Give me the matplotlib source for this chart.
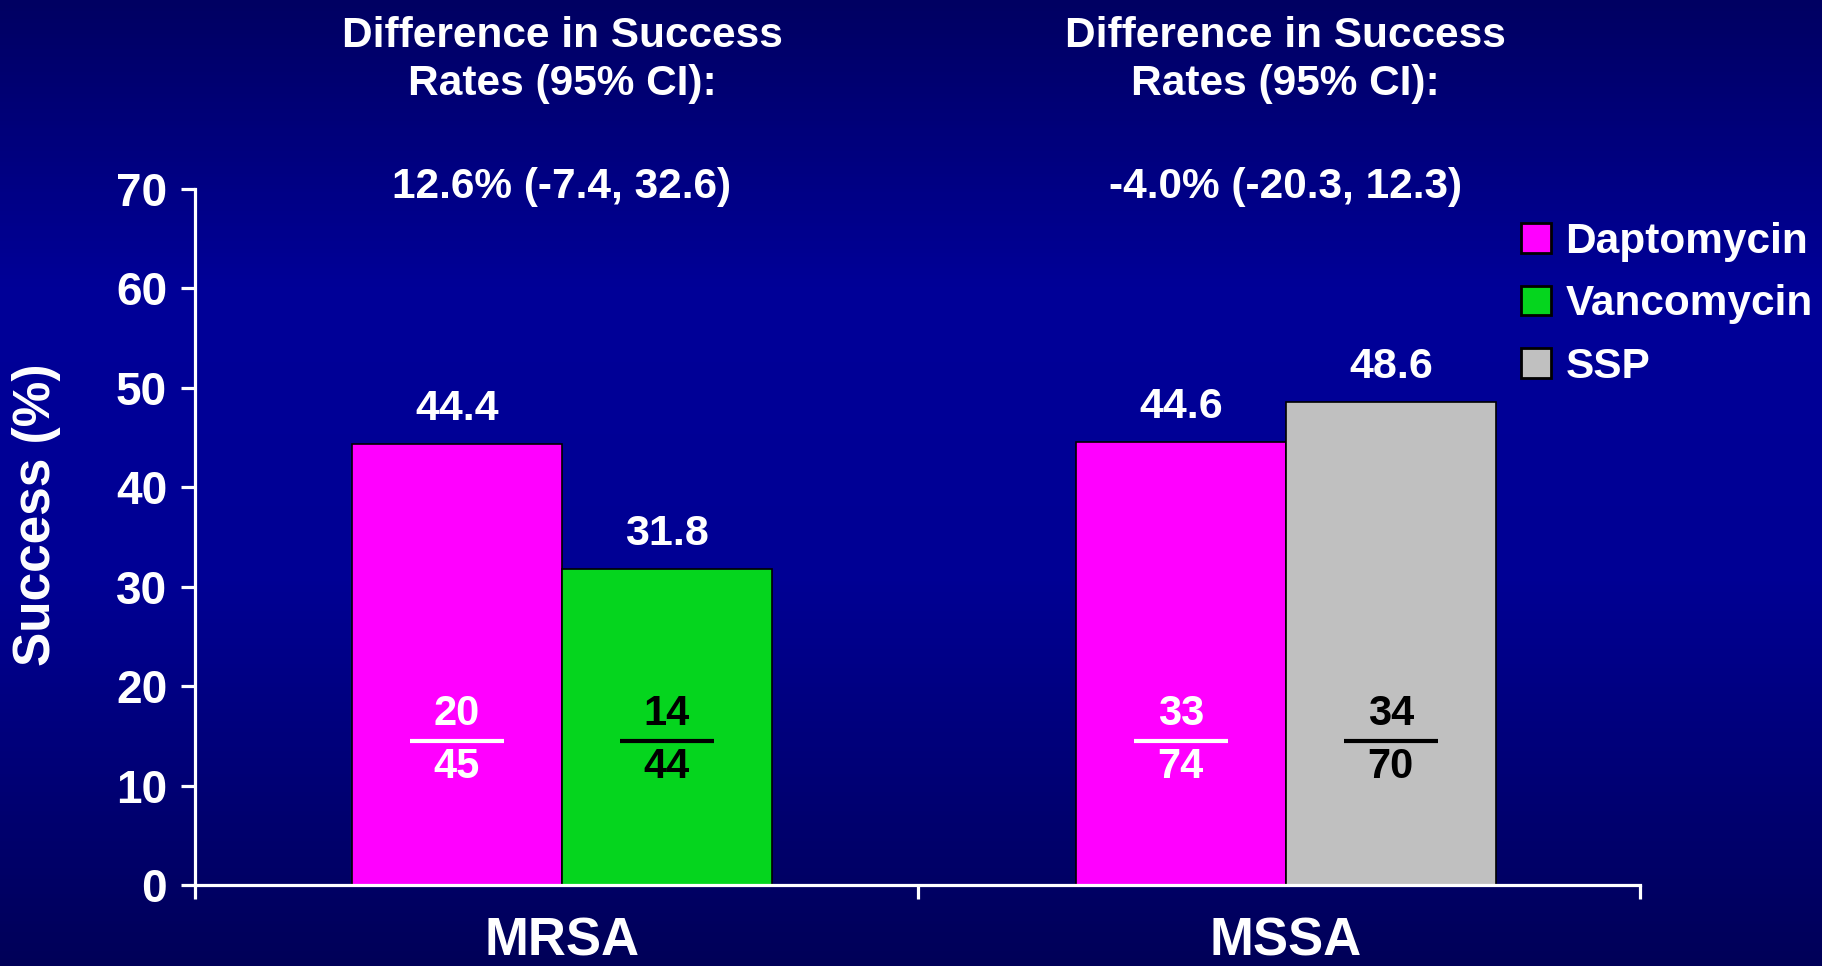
import numpy as np
import matplotlib as mplt
import matplotlib.pyplot as plt
from matplotlib.colors import LinearSegmentedColormap
from matplotlib.patches import Patch
import matplotlib.transforms as mtransforms

# Datos del gráfico
groups = ['MRSA', 'MSSA']
series_names = ['Daptomycin', 'Vancomycin', 'SSP']
left_names = ['Daptomycin', 'Daptomycin']
right_names = ['Vancomycin', 'SSP']
left_values = [44.4, 44.6]
right_values = [31.8, 48.6]
left_num = [20, 33]
left_den = [45, 74]
right_num = [14, 34]
right_den = [44, 70]
diff_text = ['12.6% (-7.4, 32.6)', '-4.0% (-20.3, 12.3)']
yticks = [0, 10, 20, 30, 40, 50, 60, 70]

colors = {'Daptomycin': '#FF00FF', 'Vancomycin': '#05D51E', 'SSP': '#C0C0C0'}
frac_color = {'Daptomycin': 'white', 'Vancomycin': 'black', 'SSP': 'black'}

mplt.rc('font', family=['Liberation Sans', 'DejaVu Sans'], weight='bold', size=30.5)
mplt.rc('axes', labelweight='bold')

fig = plt.figure(figsize=(18.22, 9.66), dpi=100)

# Fondo degradado azul
bg = fig.add_axes([0, 0, 1, 1], zorder=-10)
cmap = LinearSegmentedColormap.from_list(
    'fundo', [(0.0, '#000062'), (0.3, '#000098'), (0.6, '#000094'), (1.0, '#000058')])
bg.imshow(np.linspace(0, 1, 256).reshape(-1, 1), aspect='auto', cmap=cmap,
          extent=[0, 1, 0, 1], origin='upper')
bg.axis('off')

ax = fig.add_axes([0.107, 0.0839, 0.793, 0.7204])
ax.patch.set_alpha(0)

width = 0.29
x = np.arange(len(groups))
xl = x - width / 2
xr = x + width / 2

for i in range(len(groups)):
    ax.bar(xl[i], left_values[i], width, color=colors[left_names[i]],
           edgecolor='black', linewidth=1.2, zorder=2)
    ax.bar(xr[i], right_values[i], width, color=colors[right_names[i]],
           edgecolor='black', linewidth=1.2, zorder=2)

# Valores sobre las barras
for xs, vals in [(xl, left_values), (xr, right_values)]:
    for xi, v in zip(xs, vals):
        ax.annotate(f'{v:.1f}', (xi, v), xytext=(0, 25), textcoords='offset points',
                    ha='center', va='center', color='white', fontsize=31)

# Fracciones dentro de las barras
def fraction(xc, num, den, color):
    ax.text(xc, 17.2, str(num), ha='center', va='center', color=color, fontsize=30, zorder=3)
    ax.text(xc, 11.9, str(den), ha='center', va='center', color=color, fontsize=30, zorder=3)
    ax.plot([xc - 0.065, xc + 0.065], [14.5, 14.5], color=color, lw=3, zorder=3,
            solid_capstyle='butt')

for i in range(len(groups)):
    fraction(xl[i], left_num[i], left_den[i], frac_color[left_names[i]])
    fraction(xr[i], right_num[i], right_den[i], frac_color[right_names[i]])

# Límites con separadores de grupo en los bordes
sep = [-0.507, 0.492, 1.489]
ax.set_xlim(sep[0], sep[-1])
ax.set_ylim(0, 70)
ax.set_yticks(yticks)

for s in ['top', 'right']:
    ax.spines[s].set_visible(False)
for s in ['left', 'bottom']:
    ax.spines[s].set_color('white')
    ax.spines[s].set_linewidth(2.3)

ax.tick_params(axis='y', colors='white', length=10, width=2.3, pad=10, labelsize=33)
ax.set_xticks(x)
ax.set_xticklabels(groups)
ax.tick_params(axis='x', which='major', length=0, pad=23, labelsize=38, colors='white')
ax.set_xticks(sep, minor=True)
ax.tick_params(axis='x', which='minor', length=10, width=2.3, color='white')

ax.set_ylabel('Success (%)', color='white', fontsize=37)
ax.yaxis.set_label_coords(-0.093, 0.532)

# Títulos de diferencia en cada grupo
trans = mtransforms.blended_transform_factory(ax.transData, fig.transFigure)
for i in range(len(groups)):
    ax.text(x[i], 1 - 60 / 966, 'Difference in Success\nRates (95% CI):', transform=trans,
            ha='center', va='center', color='white', linespacing=1.27, fontsize=30.5)
    ax.text(x[i], 1 - 187 / 966, diff_text[i], transform=trans,
            ha='center', va='center', color='white', fontsize=30.5)

handles = [Patch(facecolor=colors[n], edgecolor='black', linewidth=2) for n in series_names]
fig.legend(handles, series_names, loc='upper left', bbox_to_anchor=(1521 / 1822, 1 - 222 / 966),
           frameon=False, borderpad=0, handlelength=0.7, handleheight=0.7,
           handletextpad=0.35, labelspacing=0.53, labelcolor='white', fontsize=30.5,
           borderaxespad=0)

fig.savefig('out.png', dpi=100)
